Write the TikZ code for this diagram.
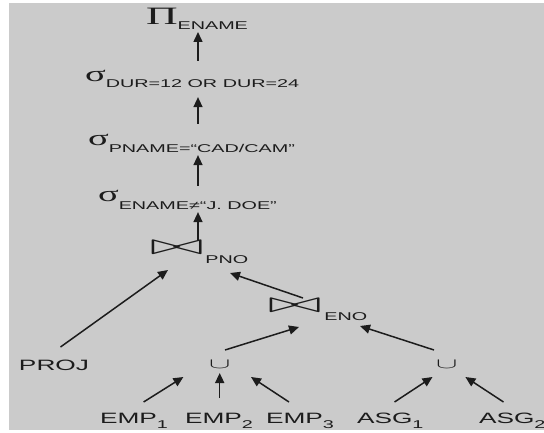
\documentclass[tikz,border=0pt]{standalone}
\usepackage{fontspec}
\usetikzlibrary{arrows.meta,calc}
\newfontfamily\lbf{Liberation Sans}
\newfontfamily\grf{Liberation Serif}
\definecolor{panel}{RGB}{203,203,203}
\definecolor{ink}{RGB}{28,28,28}
% wide lettering used throughout
\newcommand\wide[1]{\scalebox{1.75}[1]{#1}}
\newcommand\bigtxt[1]{\wide{\lbf\fontsize{15}{18}\selectfont #1}}
\newcommand\smtxt[1]{\wide{\lbf\fontsize{11.3}{13}\selectfont #1}}
\newcommand\lowered[2]{\raisebox{-#1}{\smtxt{#2}}}
\newcommand\greek[2]{\wide{\grf\fontsize{#1}{#1}\selectfont #2}}
\newcommand\joinop{\scalebox{6.4}[2.9]{$\bowtie$}}
\newcommand\unionop{\scalebox{3.2}[1.45]{$\cup$}}
\begin{document}
\begin{tikzpicture}[x=1pt,y=1pt,
  lbl/.style={inner sep=0pt, outer sep=0pt, anchor=base west, text=ink},
  arr/.style={draw=ink, line width=1.5pt, -{Triangle[length=10pt,width=9pt]}}]
\useasboundingbox (0,0) rectangle (544,432);
\fill[white] (0,0) rectangle (544,432);
\fill[panel] (9,2) rectangle (544,429);
\clip (0,0) rectangle (544,432);

% operator chain
\node[lbl] (pi)    at (146,407) {\greek{25}{Π}\lowered{5pt}{ENAME}};
\node[lbl] (dur)   at (85,350)  {\greek{22}{σ}\lowered{6pt}{DUR=12 OR DUR=24}};
\node[lbl] (pname) at (88,287)  {\greek{22}{σ}\lowered{7pt}{PNAME=“CAD/CAM”}};
\node[lbl] (ename) at (98,230)  {\greek{22}{σ}\lowered{8pt}{ENAME≠“J. DOE”}};
\node[lbl] (pno)   at (150,178) {\joinop\kern2pt\lowered{9pt}{PNO}};
\node[lbl] (eno)   at (268,120) {\joinop\kern3pt\lowered{8pt}{ENO}};
\node[lbl] (proj)  at (19,62)   {\bigtxt{PROJ}};
\node[lbl] (u1)    at (209,64)  {\unionop};
\node[lbl] (u2)    at (436,64)  {\unionop};

% base relations
\node[lbl] (emp1) at (100,9) {\bigtxt{EMP}\lowered{5pt}{1}};
\node[lbl] (emp2) at (185,9) {\bigtxt{EMP}\lowered{5pt}{2}};
\node[lbl] (emp3) at (266,9) {\bigtxt{EMP}\lowered{5pt}{3}};
\node[lbl] (asg1) at (357,9) {\bigtxt{ASG}\lowered{5pt}{1}};
\node[lbl] (asg2) at (479,9) {\bigtxt{ASG}\lowered{5pt}{2}};

% vertical spine of the chain
\coordinate (spine) at (198,0);
\draw[arr, shorten <=10pt, shorten >=2pt] (spine |- dur.north) -- (spine |- pi.south);
\draw[arr, shorten <=10pt, shorten >=9pt] (spine |- pname.north) -- (spine |- dur.south);
\draw[arr, shorten <=5pt, shorten >=3pt] (spine |- ename.north) -- (spine |- pname.south);
\draw[arr, shorten <=0pt, shorten >=2pt] (spine |- pno.north) -- (spine |- ename.south);

% joins
\draw[arr] ([shift={(41.5,23)}]proj.base west) -- ([shift={(18,-16)}]pno.base west);
\draw[arr] ([shift={(35,14)}]eno.base west) -- ([shift={(80,-19)}]pno.base west);
\draw[arr] ([shift={(16,18)}]u1.base west) -- ([shift={(31,-15)}]eno.base west);
\draw[arr] ([shift={(-2,18)}]u2.base west) -- ([shift={(92,-14)}]eno.base west);

% unions
\draw[arr] ([shift={(43.6,21)}]emp1.base west) -- ([shift={(-25.6,-9)}]u1.base west);
\draw[arr] ([shift={(34.7,25)}]emp2.base west) -- ([shift={(10.7,-5)}]u1.base west);
\draw[arr] ([shift={(23,21)}]emp3.base west) -- ([shift={(42,-9)}]u1.base west);
\draw[arr] ([shift={(37.5,21)}]asg1.base west) -- ([shift={(-3.5,-9)}]u2.base west);
\draw[arr] ([shift={(24.5,21)}]asg2.base west) -- ([shift={(29.4,-9)}]u2.base west);
\end{tikzpicture}
\end{document}
